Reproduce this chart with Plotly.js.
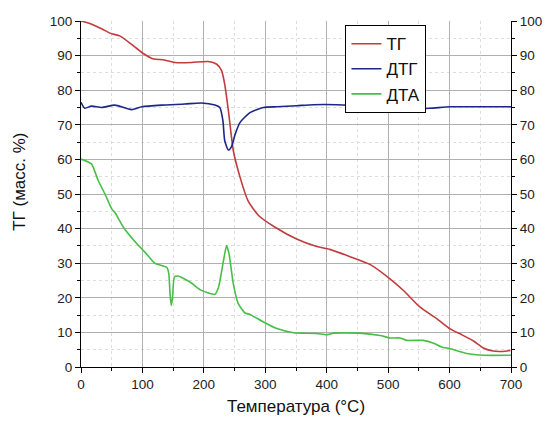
<!DOCTYPE html>
<html>
<head>
<meta charset="utf-8">
<script src="https://cdn.plot.ly/plotly-3.0.1.min.js"></script>
<style>html,body{margin:0;padding:0;background:#fff;}#chart{width:551px;height:421px;}</style>
</head>
<body>
<div id="chart"></div>
<script>
// Temperature (°C) and values for each series
const tgT = [0,12,23,35,50,63,82,99,118,134,153,180,207,221,229,234,240,248,259,272,289,316,351,384,405,438,471,503,525,552,579,601,620,639,655,671,685,699];
const tgV = [100,99.4,98.6,97.6,96.3,95.7,93.3,90.9,89,88.8,88,88,88.3,87.5,85.6,81.7,74,62.5,54.8,48,43.8,40.4,37,34.8,34,31.9,29.6,25.5,22.1,17.3,14,11,9.3,7.5,5.5,4.6,4.5,4.8];

const dtgT = [0,6,17,34,55,82,99,131,169,196,218,226,231,234,240,245,251,259,275,297,319,351,378,416,460,503,541,568,601,644,700];
const dtgV = [76.5,74.8,75.4,75,75.7,74.4,75.2,75.7,76,76.3,75.7,75,71.2,65.4,62.7,63.7,67.3,70.7,73.5,75,75.2,75.5,75.8,75.8,75.4,74.7,74.7,74.8,75.2,75.2,75.2];

const dtaT = [0,17,28,39,50,55,69,91,104,120,140,143,145,147,149,152,158,178,194,218,224,232,237,241,248,256,267,275,297,319,346,384,400,411,454,487,503,519,530,557,574,587,601,628,655,700];
const dtaV = [60.1,58.7,53.9,50,45.7,44.7,40.4,35.6,33.2,30,28.7,26.9,21,17.8,20,26,26.3,24.5,22.3,21,23.1,30.8,35.1,32.7,24,18.3,15.6,15.2,13,11.1,9.9,9.7,9.3,9.8,9.8,9.1,8.4,8.4,7.7,7.7,6.9,5.8,5.3,3.9,3.4,3.4];

const seriesNames = ['ТГ','ДТГ','ДТА'];
const xTitle = 'Температура (°C)';
const yTitle = 'ТГ (масс. %)';

const FONT = '"Liberation Sans", Arial, sans-serif';

const traces = [
  {x: tgT, y: tgV, name: seriesNames[0], type: 'scatter', mode: 'lines', line: {color: '#c23b3d', width: 1.6, shape: 'spline', smoothing: 0.6}},
  {x: dtgT, y: dtgV, name: seriesNames[1], type: 'scatter', mode: 'lines', yaxis: 'y2', line: {color: '#1c2688', width: 1.6, shape: 'spline', smoothing: 0.6}},
  {x: dtaT, y: dtaV, name: seriesNames[2], type: 'scatter', mode: 'lines', line: {color: '#47bf47', width: 1.6, shape: 'spline', smoothing: 0.5}}
];

const yCommon = {
  range: [0, 100], dtick: 10, tick0: 0,
  ticks: 'outside', ticklen: 5, tickwidth: 1, tickcolor: '#000',
  showline: true, linecolor: '#000', linewidth: 1,
  zeroline: false,
  tickfont: {family: FONT, size: 13.5, color: '#222'},
  minor: {dtick: 5, ticks: 'outside', ticklen: 3, tickcolor: '#000', showgrid: true, gridcolor: '#dddddd', griddash: 'dot', gridwidth: 1}
};

const layout = {
  width: 551, height: 421,
  margin: {l: 81, r: 40, t: 21, b: 54},
  paper_bgcolor: '#fff', plot_bgcolor: '#fff',
  font: {family: FONT, color: '#222'},
  showlegend: true,
  legend: {x: 0.615, y: 0.988, xanchor: 'left', yanchor: 'top', bgcolor: '#fff', bordercolor: '#000', borderwidth: 1, font: {family: FONT, size: 17, color: '#111'}, tracegroupgap: 0},
  xaxis: {
    range: [0, 700], dtick: 100, tick0: 0,
    ticks: 'outside', ticklen: 5, tickcolor: '#000',
    showline: true, linecolor: '#000', linewidth: 1, zeroline: false,
    showgrid: true, gridcolor: '#b0b0b0', gridwidth: 1,
    tickfont: {family: FONT, size: 13.5, color: '#222'},
    minor: {dtick: 50, ticks: 'outside', ticklen: 3, tickcolor: '#000', showgrid: true, gridcolor: '#dddddd', griddash: 'dot', gridwidth: 1},
    title: {text: xTitle, font: {family: FONT, size: 17, color: '#111'}, standoff: 8}
  },
  yaxis: Object.assign({}, yCommon, {showgrid: true, gridcolor: '#b0b0b0', gridwidth: 1}),
  yaxis2: Object.assign({}, yCommon, {overlaying: 'y', side: 'right', showgrid: false, minor: {dtick: 5, ticks: 'outside', ticklen: 3, tickcolor: '#000', showgrid: false}}),
  annotations: [
    {text: yTitle, xref: 'paper', yref: 'paper', x: -0.142, y: 0.535, xanchor: 'center', yanchor: 'middle', textangle: -90, showarrow: false, font: {family: FONT, size: 17, color: '#111'}}
  ]
};

Plotly.newPlot('chart', traces, layout, {displayModeBar: false, staticPlot: true});
</script>
</body>
</html>
